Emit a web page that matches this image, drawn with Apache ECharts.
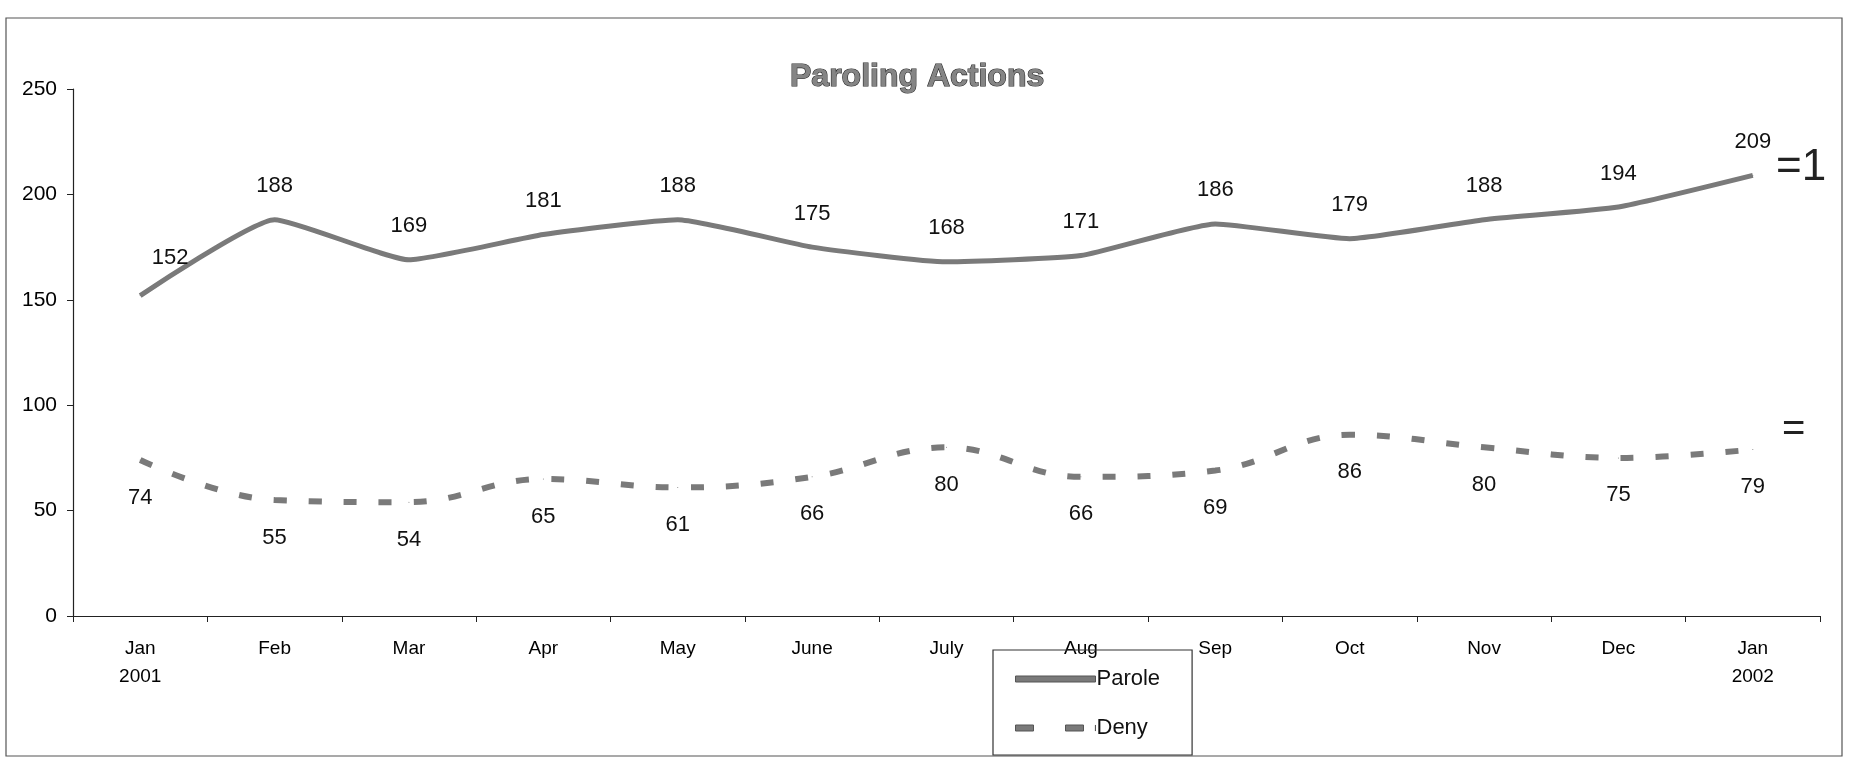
<!DOCTYPE html>
<html><head><meta charset="utf-8">
<script src="https://cdn.jsdelivr.net/npm/echarts@6/dist/echarts.min.js"></script>
<style>html,body{margin:0;padding:0;background:#fff}#c{width:1853px;height:766px}</style>
</head><body><div id="c"></div>
<script>
const categories = ['Jan\n2001','Feb','Mar','Apr','May','June','July','Aug','Sep','Oct','Nov','Dec','Jan\n2002'];
const parole = [152,188,169,181,188,175,168,171,186,179,188,194,209];
const deny = [74,55,54,65,61,66,80,66,69,86,80,75,79];
const yTicks = [0,50,100,150,200,250];
const notes = ['=1', '='];

const paroleData = parole.map((v,i)=> i===0 ? {value:v,label:{offset:[30,-4]}} : v);

const chart = echarts.init(document.getElementById('c'));
chart.setOption({
  animation:false,
  backgroundColor:'#fff',
  textStyle:{fontFamily:'Liberation Sans, Arial, sans-serif'},
  title:{text:'Paroling Actions',left:785,top:56,
    textStyle:{fontSize:32,fontWeight:'bold',color:'#858585',textBorderColor:'#2a2a2a',textBorderWidth:1.2,fontFamily:'Liberation Sans, Arial, sans-serif'}},
  graphic:[
    {type:'rect',shape:{x:6,y:18,width:1836,height:738},style:{fill:'none',stroke:'#555',lineWidth:1.2},silent:true},
    {type:'text',left:1776,top:146,style:{text:notes[0],fontSize:44,fontFamily:'Liberation Sans',fontWeight:'normal',fill:'#222'},silent:true},
    {type:'text',left:1782,top:410,style:{text:notes[1],fontSize:40,fontFamily:'Liberation Sans',fontWeight:'normal',fill:'#222'},silent:true}
  ],
  grid:{left:73,right:33,top:89,bottom:150,containLabel:false},
  legend:{orient:'vertical',left:993,top:650,
    data:[
      {name:'Parole',icon:'path://M0,0H80V6H0Z'},
      {name:'Deny',icon:'path://M0,0H18V6H0Z M50,0H68V6H50Z M79.9,0H80V6H79.9Z'}
    ],
    borderColor:'#333',borderWidth:1.2,padding:[18,32,16,22],itemGap:27,
    itemWidth:80,itemHeight:7,
    itemStyle:{color:'#7a7a7a',opacity:1,borderColor:'#555',borderWidth:1},
    textStyle:{fontSize:22,color:'#111',padding:[0,0,0,-4]}},
  xAxis:{type:'category',data:categories,boundaryGap:true,
    axisLine:{lineStyle:{color:'#222',width:1.2}},
    axisTick:{show:true,inside:false,length:6,lineStyle:{color:'#222'}},
    axisLabel:{fontSize:19,color:'#000',margin:19,lineHeight:28,interval:0}},
  yAxis:{type:'value',min:0,max:250,interval:50,
    axisLine:{show:true,lineStyle:{color:'#222',width:1.2}},
    axisTick:{show:true,length:6,lineStyle:{color:'#222'}},
    splitLine:{show:false},
    axisLabel:{fontSize:21,color:'#000',margin:16,
      formatter:v=>yTicks.includes(v)?String(v):''}},
  series:[
    {name:'Parole',type:'line',data:paroleData,smooth:0.15,symbol:'circle',symbolSize:1,showSymbol:true,
     lineStyle:{color:'#7a7a7a',width:5},itemStyle:{color:'#7a7a7a'},
     label:{show:true,position:'top',distance:22,fontSize:22,color:'#111'}},
    {name:'Deny',type:'line',data:deny,smooth:0.4,symbol:'circle',symbolSize:1,showSymbol:true,
     lineStyle:{color:'#7a7a7a',width:6,type:[13,22]},itemStyle:{color:'#7a7a7a'},
     label:{show:true,position:'bottom',distance:26,fontSize:22,color:'#111'}}
  ]
});
</script></body></html>
